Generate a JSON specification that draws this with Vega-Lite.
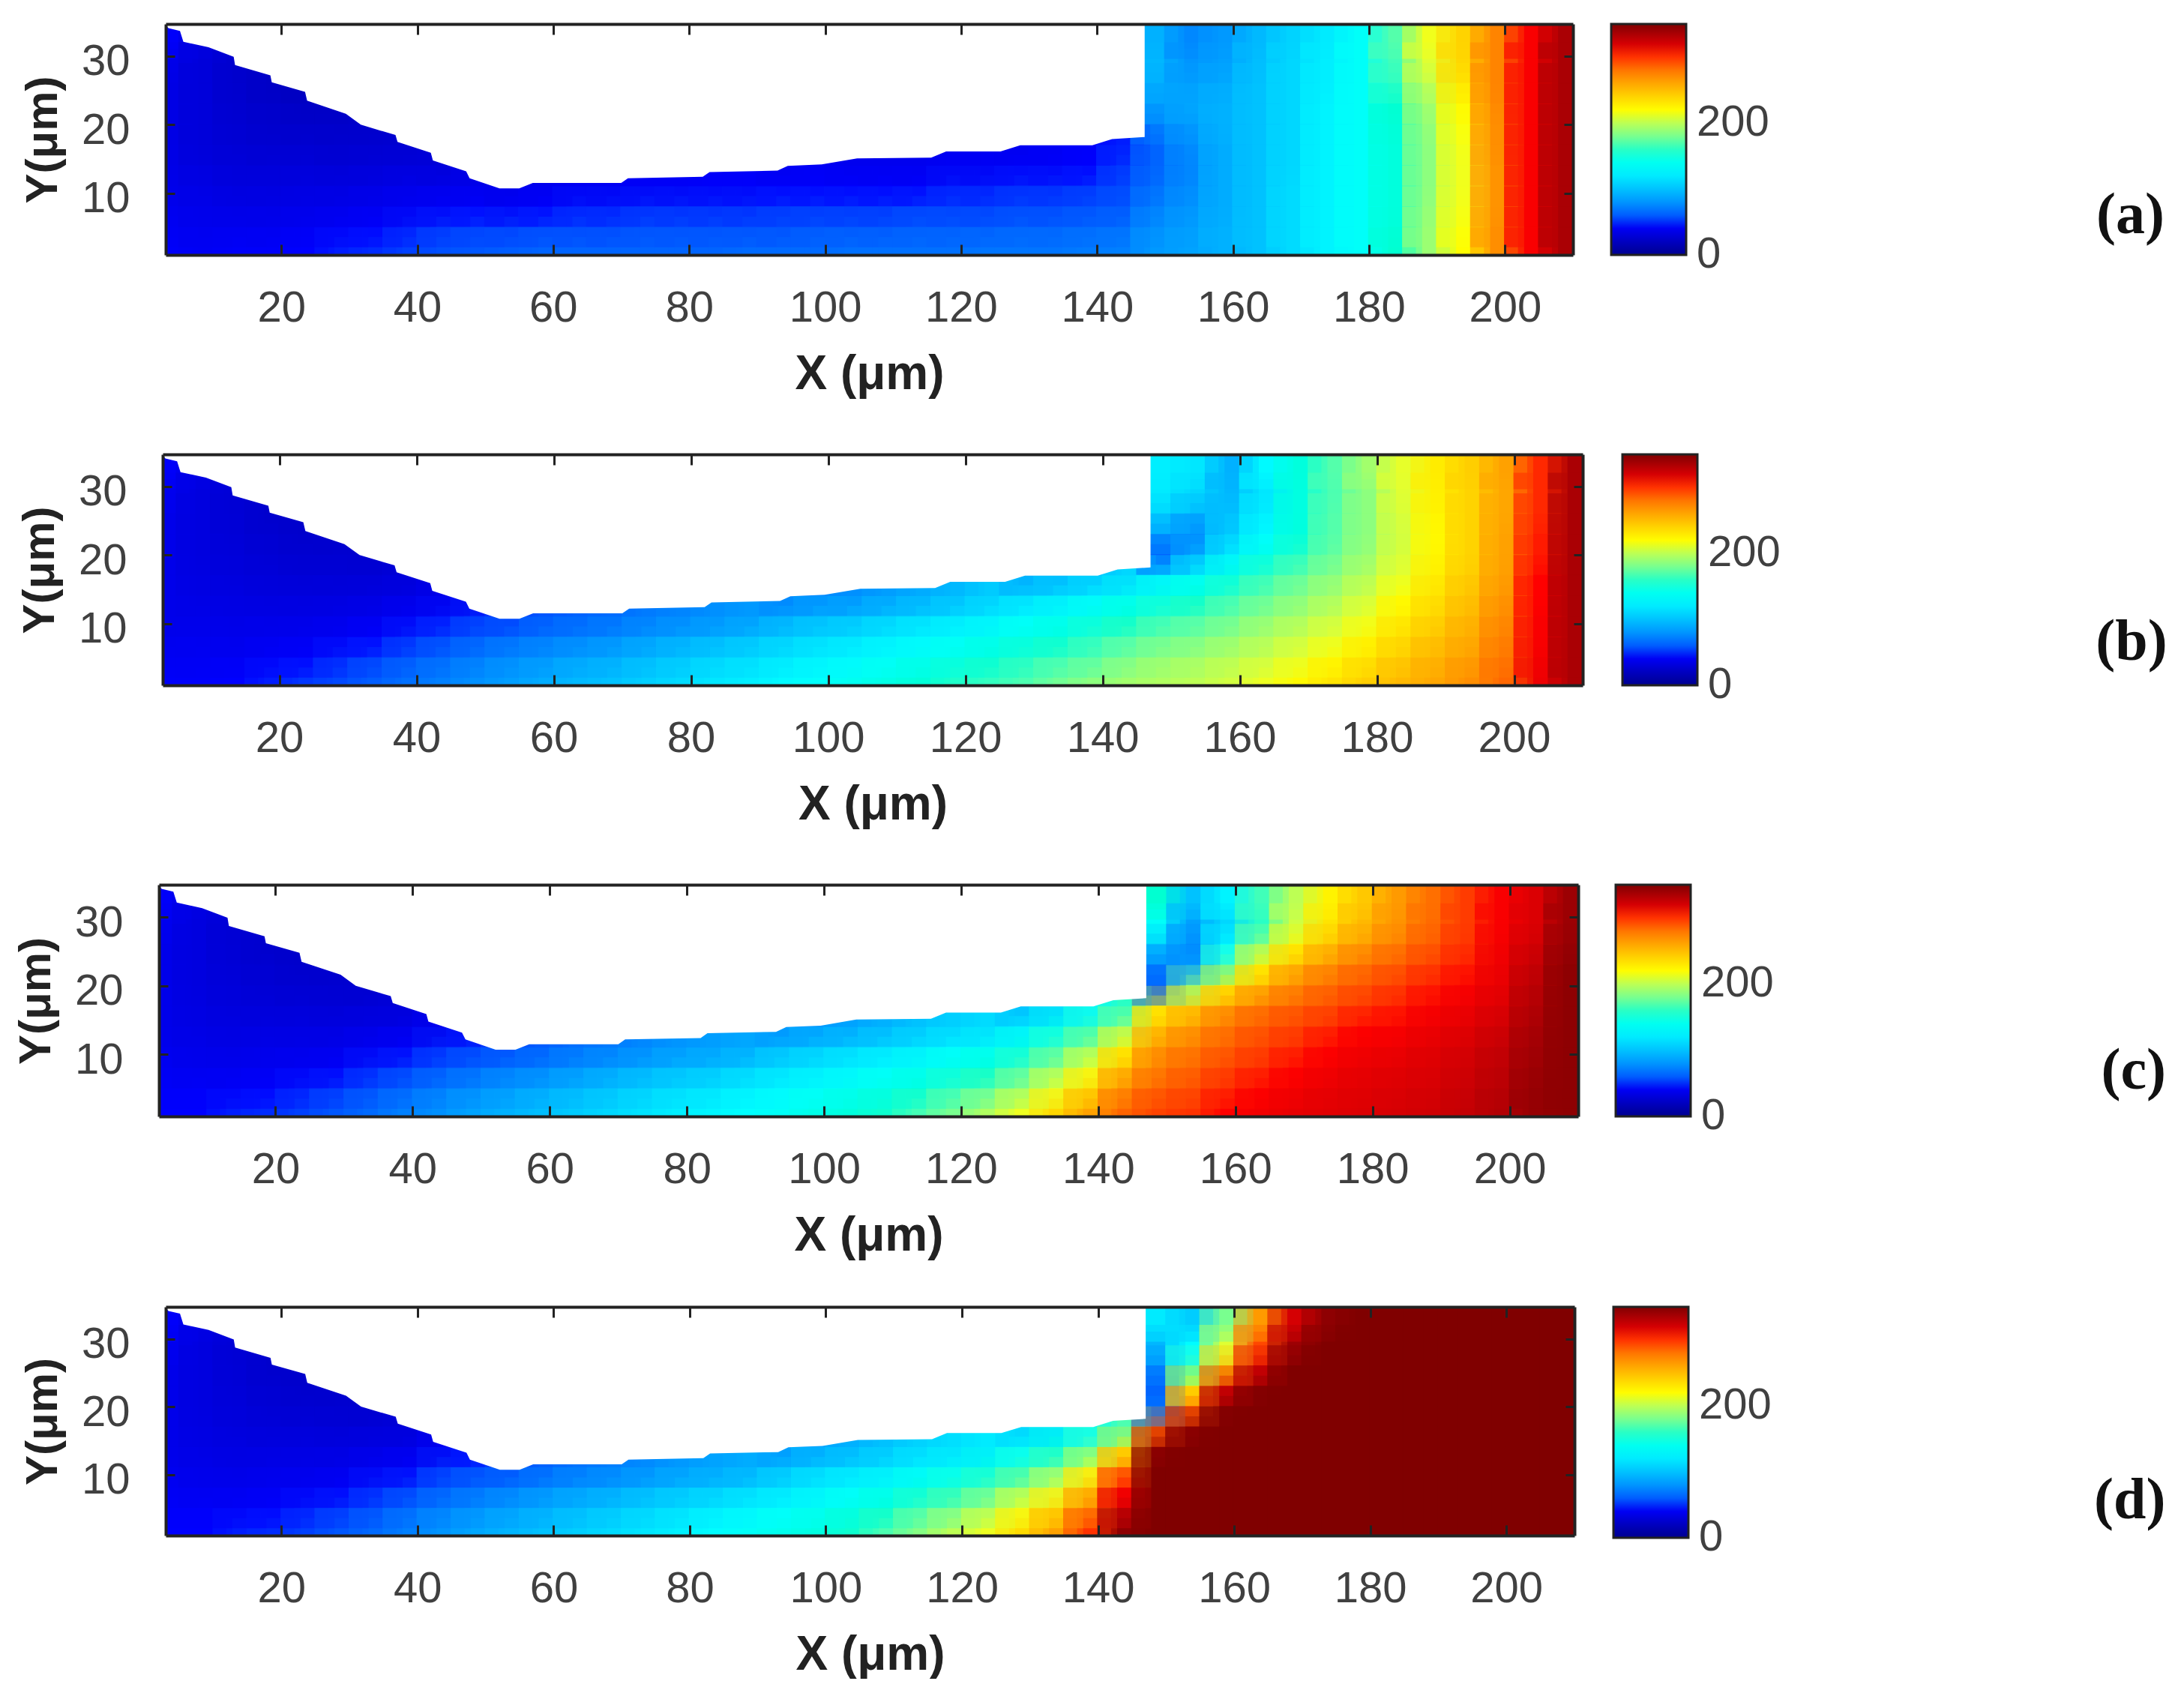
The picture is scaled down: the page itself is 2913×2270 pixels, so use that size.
{"$schema":"https://vega.github.io/schema/vega-lite/v6.json","background":"white","padding":{"left":17,"top":30,"right":0,"bottom":0},"spacing":61,"resolve":{"scale":{"color":"independent"},"legend":{"color":"independent"}},
"config":{"view":{"stroke":null},"font":"Liberation Sans","axis":{"tickWidth":3,"tickColor":"#222","domainColor":"#222","domainWidth":4,"grid":false,"labelFontSize":58,"labelColor":"#404040","labelFont":"Liberation Sans","titleFontWeight":"bold","titleColor":"#222","titleFont":"Liberation Sans"},"legend":{"labelFontSize":58,"labelColor":"#404040","labelFont":"Liberation Sans","gradientStrokeColor":"#222","gradientStrokeWidth":3,"labelOverlap":false}},
"datasets":{
"edge":[{"x":3,"y":34.6},{"x":3.4,"y":34.1},{"x":5.1,"y":33.7},{"x":5.6,"y":32.1},{"x":9.3,"y":31.3},{"x":13,"y":29.9},{"x":13.2,"y":28.7},{"x":18.4,"y":27.2},{"x":18.6,"y":26.2},{"x":23.5,"y":24.8},{"x":23.8,"y":23.5},{"x":29.5,"y":21.6},{"x":31.7,"y":20},{"x":36.8,"y":18.5},{"x":37.1,"y":17.5},{"x":42,"y":15.9},{"x":42.3,"y":14.8},{"x":47.2,"y":13.2},{"x":47.7,"y":12.2},{"x":52.1,"y":10.7},{"x":55,"y":10.7},{"x":57,"y":11.5},{"x":70,"y":11.5},{"x":71,"y":12.2},{"x":82,"y":12.4},{"x":83,"y":13.1},{"x":93,"y":13.3},{"x":94.5,"y":14},{"x":99.5,"y":14.2},{"x":104.7,"y":15.1},{"x":115.6,"y":15.2},{"x":117.8,"y":16.1},{"x":125.8,"y":16.1},{"x":128.7,"y":17},{"x":139.3,"y":17},{"x":142.2,"y":17.9},{"x":147,"y":18.2}],
"a":[
{"x":4.5,"y":2.5,"v":42},{"x":4.5,"y":5.5,"v":40},{"x":4.5,"y":8.5,"v":38},{"x":4.5,"y":11.5,"v":36},{"x":4.5,"y":14.5,"v":35},{"x":4.5,"y":17.5,"v":34},{"x":4.5,"y":20.5,"v":34},{"x":4.5,"y":23.5,"v":34},{"x":4.5,"y":26.5,"v":34},{"x":4.5,"y":29.5,"v":36},{"x":4.5,"y":33,"v":42},
{"x":9.5,"y":2.5,"v":40},{"x":9.5,"y":5.5,"v":38},{"x":9.5,"y":8.5,"v":36},{"x":9.5,"y":11.5,"v":34},{"x":9.5,"y":14.5,"v":32},{"x":9.5,"y":17.5,"v":30},{"x":9.5,"y":20.5,"v":30},{"x":9.5,"y":23.5,"v":30},{"x":9.5,"y":26.5,"v":30},{"x":9.5,"y":29.5,"v":30},{"x":9.5,"y":33,"v":32},
{"x":14.5,"y":2.5,"v":42},{"x":14.5,"y":5.5,"v":38},{"x":14.5,"y":8.5,"v":35},{"x":14.5,"y":11.5,"v":32},{"x":14.5,"y":14.5,"v":30},{"x":14.5,"y":17.5,"v":28},{"x":14.5,"y":20.5,"v":27},{"x":14.5,"y":23.5,"v":26},{"x":14.5,"y":26.5,"v":25},{"x":14.5,"y":29.5,"v":25},
{"x":19.5,"y":2.5,"v":42},{"x":19.5,"y":5.5,"v":38},{"x":19.5,"y":8.5,"v":35},{"x":19.5,"y":11.5,"v":32},{"x":19.5,"y":14.5,"v":30},{"x":19.5,"y":17.5,"v":27},{"x":19.5,"y":20.5,"v":25},{"x":19.5,"y":23.5,"v":24},{"x":19.5,"y":26.5,"v":22},
{"x":24.5,"y":2.5,"v":44},{"x":24.5,"y":5.5,"v":40},{"x":24.5,"y":8.5,"v":36},{"x":24.5,"y":11.5,"v":33},{"x":24.5,"y":14.5,"v":30},{"x":24.5,"y":17.5,"v":27},{"x":24.5,"y":20.5,"v":24},{"x":24.5,"y":23.5,"v":22},{"x":24.5,"y":26.5,"v":20},
{"x":29.5,"y":2.5,"v":46},{"x":29.5,"y":5.5,"v":42},{"x":29.5,"y":8.5,"v":37},{"x":29.5,"y":11.5,"v":33},{"x":29.5,"y":14.5,"v":29},{"x":29.5,"y":17.5,"v":26},{"x":29.5,"y":20.5,"v":24},{"x":29.5,"y":23.5,"v":22},
{"x":34.5,"y":2.5,"v":48},{"x":34.5,"y":5.5,"v":44},{"x":34.5,"y":8.5,"v":38},{"x":34.5,"y":11.5,"v":34},{"x":34.5,"y":14.5,"v":30},{"x":34.5,"y":17.5,"v":27},{"x":34.5,"y":20.5,"v":24},
{"x":39.5,"y":2.5,"v":52},{"x":39.5,"y":5.5,"v":46},{"x":39.5,"y":8.5,"v":40},{"x":39.5,"y":11.5,"v":36},{"x":39.5,"y":14.5,"v":31},{"x":39.5,"y":17.5,"v":27},
{"x":44.5,"y":2.5,"v":56},{"x":44.5,"y":5.5,"v":50},{"x":44.5,"y":8.5,"v":42},{"x":44.5,"y":11.5,"v":37},{"x":44.5,"y":14.5,"v":30},
{"x":49.5,"y":2.5,"v":58},{"x":49.5,"y":5.5,"v":52},{"x":49.5,"y":8.5,"v":44},{"x":49.5,"y":11.5,"v":37},{"x":49.5,"y":14.5,"v":34},
{"x":54.5,"y":2.5,"v":60},{"x":54.5,"y":5.5,"v":52},{"x":54.5,"y":8.5,"v":42},{"x":54.5,"y":11.5,"v":36},
{"x":59.5,"y":2.5,"v":62},{"x":59.5,"y":5.5,"v":54},{"x":59.5,"y":8.5,"v":44},{"x":59.5,"y":11.5,"v":38},
{"x":64.5,"y":2.5,"v":62},{"x":64.5,"y":5.5,"v":54},{"x":64.5,"y":8.5,"v":46},{"x":64.5,"y":11.5,"v":40},
{"x":69.5,"y":2.5,"v":62},{"x":69.5,"y":5.5,"v":54},{"x":69.5,"y":8.5,"v":46},{"x":69.5,"y":11.5,"v":40},
{"x":74.5,"y":2.5,"v":62},{"x":74.5,"y":5.5,"v":56},{"x":74.5,"y":8.5,"v":48},{"x":74.5,"y":11.5,"v":41},
{"x":79.5,"y":2.5,"v":62},{"x":79.5,"y":5.5,"v":56},{"x":79.5,"y":8.5,"v":48},{"x":79.5,"y":11.5,"v":41},
{"x":84.5,"y":2.5,"v":62},{"x":84.5,"y":5.5,"v":56},{"x":84.5,"y":8.5,"v":48},{"x":84.5,"y":11.5,"v":42},
{"x":89.5,"y":2.5,"v":64},{"x":89.5,"y":5.5,"v":56},{"x":89.5,"y":8.5,"v":48},{"x":89.5,"y":11.5,"v":42},
{"x":94.5,"y":2.5,"v":64},{"x":94.5,"y":5.5,"v":56},{"x":94.5,"y":8.5,"v":50},{"x":94.5,"y":11.5,"v":44},{"x":94.5,"y":14.5,"v":38},
{"x":99.5,"y":2.5,"v":64},{"x":99.5,"y":5.5,"v":58},{"x":99.5,"y":8.5,"v":50},{"x":99.5,"y":11.5,"v":44},{"x":99.5,"y":14.5,"v":40},
{"x":104.5,"y":2.5,"v":66},{"x":104.5,"y":5.5,"v":58},{"x":104.5,"y":8.5,"v":50},{"x":104.5,"y":11.5,"v":44},{"x":104.5,"y":14.5,"v":38},
{"x":109.5,"y":2.5,"v":66},{"x":109.5,"y":5.5,"v":58},{"x":109.5,"y":8.5,"v":50},{"x":109.5,"y":11.5,"v":44},{"x":109.5,"y":14.5,"v":38},
{"x":114.5,"y":2.5,"v":66},{"x":114.5,"y":5.5,"v":60},{"x":114.5,"y":8.5,"v":52},{"x":114.5,"y":11.5,"v":44},{"x":114.5,"y":14.5,"v":38},
{"x":119.5,"y":2.5,"v":66},{"x":119.5,"y":5.5,"v":60},{"x":119.5,"y":8.5,"v":52},{"x":119.5,"y":11.5,"v":46},{"x":119.5,"y":14.5,"v":40},
{"x":124.5,"y":2.5,"v":68},{"x":124.5,"y":5.5,"v":60},{"x":124.5,"y":8.5,"v":52},{"x":124.5,"y":11.5,"v":46},{"x":124.5,"y":14.5,"v":40},
{"x":129.5,"y":2.5,"v":68},{"x":129.5,"y":5.5,"v":62},{"x":129.5,"y":8.5,"v":54},{"x":129.5,"y":11.5,"v":48},{"x":129.5,"y":14.5,"v":42},{"x":129.5,"y":17.5,"v":38},
{"x":134.5,"y":2.5,"v":68},{"x":134.5,"y":5.5,"v":62},{"x":134.5,"y":8.5,"v":54},{"x":134.5,"y":11.5,"v":48},{"x":134.5,"y":14.5,"v":42},{"x":134.5,"y":17.5,"v":40},
{"x":139.5,"y":2.5,"v":70},{"x":139.5,"y":5.5,"v":64},{"x":139.5,"y":8.5,"v":56},{"x":139.5,"y":11.5,"v":50},{"x":139.5,"y":14.5,"v":44},{"x":139.5,"y":17.5,"v":42},
{"x":144.5,"y":2.5,"v":72},{"x":144.5,"y":5.5,"v":66},{"x":144.5,"y":8.5,"v":58},{"x":144.5,"y":11.5,"v":54},{"x":144.5,"y":14.5,"v":50},{"x":144.5,"y":17.5,"v":46},
{"x":149.5,"y":2.5,"v":82},{"x":149.5,"y":5.5,"v":78},{"x":149.5,"y":8.5,"v":72},{"x":149.5,"y":11.5,"v":66},{"x":149.5,"y":14.5,"v":62},{"x":149.5,"y":17.5,"v":62},{"x":149.5,"y":20.5,"v":72},{"x":149.5,"y":23.5,"v":84},{"x":149.5,"y":26.5,"v":90},{"x":149.5,"y":29.5,"v":95},{"x":149.5,"y":33,"v":92},
{"x":154.5,"y":2.5,"v":86},{"x":154.5,"y":5.5,"v":84},{"x":154.5,"y":8.5,"v":80},{"x":154.5,"y":11.5,"v":76},{"x":154.5,"y":14.5,"v":74},{"x":154.5,"y":17.5,"v":76},{"x":154.5,"y":20.5,"v":82},{"x":154.5,"y":23.5,"v":88},{"x":154.5,"y":26.5,"v":85},{"x":154.5,"y":29.5,"v":80},{"x":154.5,"y":33,"v":75},
{"x":159.5,"y":2.5,"v":92},{"x":159.5,"y":5.5,"v":92},{"x":159.5,"y":8.5,"v":90},{"x":159.5,"y":11.5,"v":90},{"x":159.5,"y":14.5,"v":90},{"x":159.5,"y":17.5,"v":90},{"x":159.5,"y":20.5,"v":92},{"x":159.5,"y":23.5,"v":92},{"x":159.5,"y":26.5,"v":90},{"x":159.5,"y":29.5,"v":85},{"x":159.5,"y":33,"v":82},
{"x":164.5,"y":2.5,"v":100},{"x":164.5,"y":5.5,"v":100},{"x":164.5,"y":8.5,"v":100},{"x":164.5,"y":11.5,"v":100},{"x":164.5,"y":14.5,"v":100},{"x":164.5,"y":17.5,"v":100},{"x":164.5,"y":20.5,"v":100},{"x":164.5,"y":23.5,"v":100},{"x":164.5,"y":26.5,"v":100},{"x":164.5,"y":29.5,"v":98},{"x":164.5,"y":33,"v":96},
{"x":169.5,"y":2.5,"v":112},{"x":169.5,"y":5.5,"v":112},{"x":169.5,"y":8.5,"v":112},{"x":169.5,"y":11.5,"v":112},{"x":169.5,"y":14.5,"v":110},{"x":169.5,"y":17.5,"v":110},{"x":169.5,"y":20.5,"v":110},{"x":169.5,"y":23.5,"v":110},{"x":169.5,"y":26.5,"v":110},{"x":169.5,"y":29.5,"v":110},{"x":169.5,"y":33,"v":108},
{"x":174.5,"y":2.5,"v":125},{"x":174.5,"y":5.5,"v":125},{"x":174.5,"y":8.5,"v":125},{"x":174.5,"y":11.5,"v":125},{"x":174.5,"y":14.5,"v":125},{"x":174.5,"y":17.5,"v":125},{"x":174.5,"y":20.5,"v":125},{"x":174.5,"y":23.5,"v":125},{"x":174.5,"y":26.5,"v":122},{"x":174.5,"y":29.5,"v":122},{"x":174.5,"y":33,"v":120},
{"x":179.5,"y":2.5,"v":135},{"x":179.5,"y":5.5,"v":135},{"x":179.5,"y":8.5,"v":135},{"x":179.5,"y":11.5,"v":135},{"x":179.5,"y":14.5,"v":135},{"x":179.5,"y":17.5,"v":135},{"x":179.5,"y":20.5,"v":135},{"x":179.5,"y":23.5,"v":135},{"x":179.5,"y":26.5,"v":135},{"x":179.5,"y":29.5,"v":135},{"x":179.5,"y":33,"v":135},
{"x":184.5,"y":2.5,"v":155},{"x":184.5,"y":5.5,"v":152},{"x":184.5,"y":8.5,"v":150},{"x":184.5,"y":11.5,"v":150},{"x":184.5,"y":14.5,"v":150},{"x":184.5,"y":17.5,"v":150},{"x":184.5,"y":20.5,"v":152},{"x":184.5,"y":23.5,"v":155},{"x":184.5,"y":26.5,"v":160},{"x":184.5,"y":29.5,"v":165},{"x":184.5,"y":33,"v":170},
{"x":189.5,"y":2.5,"v":190},{"x":189.5,"y":5.5,"v":190},{"x":189.5,"y":8.5,"v":188},{"x":189.5,"y":11.5,"v":186},{"x":189.5,"y":14.5,"v":186},{"x":189.5,"y":17.5,"v":186},{"x":189.5,"y":20.5,"v":188},{"x":189.5,"y":23.5,"v":192},{"x":189.5,"y":26.5,"v":200},{"x":189.5,"y":29.5,"v":210},{"x":189.5,"y":33,"v":215},
{"x":194.5,"y":2.5,"v":220},{"x":194.5,"y":5.5,"v":218},{"x":194.5,"y":8.5,"v":216},{"x":194.5,"y":11.5,"v":215},{"x":194.5,"y":14.5,"v":215},{"x":194.5,"y":17.5,"v":216},{"x":194.5,"y":20.5,"v":218},{"x":194.5,"y":23.5,"v":222},{"x":194.5,"y":26.5,"v":230},{"x":194.5,"y":29.5,"v":238},{"x":194.5,"y":33,"v":240},
{"x":199.5,"y":2.5,"v":270},{"x":199.5,"y":5.5,"v":270},{"x":199.5,"y":8.5,"v":268},{"x":199.5,"y":11.5,"v":268},{"x":199.5,"y":14.5,"v":268},{"x":199.5,"y":17.5,"v":270},{"x":199.5,"y":20.5,"v":270},{"x":199.5,"y":23.5,"v":272},{"x":199.5,"y":26.5,"v":274},{"x":199.5,"y":29.5,"v":274},{"x":199.5,"y":33,"v":274},
{"x":204.5,"y":2.5,"v":308},{"x":204.5,"y":5.5,"v":308},{"x":204.5,"y":8.5,"v":308},{"x":204.5,"y":11.5,"v":308},{"x":204.5,"y":14.5,"v":308},{"x":204.5,"y":17.5,"v":308},{"x":204.5,"y":20.5,"v":308},{"x":204.5,"y":23.5,"v":308},{"x":204.5,"y":26.5,"v":308},{"x":204.5,"y":29.5,"v":308},{"x":204.5,"y":33,"v":308},
{"x":209.5,"y":2.5,"v":335},{"x":209.5,"y":5.5,"v":335},{"x":209.5,"y":8.5,"v":335},{"x":209.5,"y":11.5,"v":335},{"x":209.5,"y":14.5,"v":335},{"x":209.5,"y":17.5,"v":335},{"x":209.5,"y":20.5,"v":335},{"x":209.5,"y":23.5,"v":335},{"x":209.5,"y":26.5,"v":335},{"x":209.5,"y":29.5,"v":335},{"x":209.5,"y":33,"v":335}],
"b":[
{"x":4.5,"y":2.5,"v":42},{"x":4.5,"y":5.5,"v":40},{"x":4.5,"y":8.5,"v":38},{"x":4.5,"y":11.5,"v":36},{"x":4.5,"y":14.5,"v":36},{"x":4.5,"y":17.5,"v":36},{"x":4.5,"y":20.5,"v":36},{"x":4.5,"y":23.5,"v":36},{"x":4.5,"y":26.5,"v":36},{"x":4.5,"y":29.5,"v":38},{"x":4.5,"y":33,"v":42},
{"x":9.5,"y":2.5,"v":42},{"x":9.5,"y":5.5,"v":40},{"x":9.5,"y":8.5,"v":38},{"x":9.5,"y":11.5,"v":36},{"x":9.5,"y":14.5,"v":34},{"x":9.5,"y":17.5,"v":33},{"x":9.5,"y":20.5,"v":32},{"x":9.5,"y":23.5,"v":32},{"x":9.5,"y":26.5,"v":32},{"x":9.5,"y":29.5,"v":32},{"x":9.5,"y":33,"v":34},
{"x":14.5,"y":2.5,"v":44},{"x":14.5,"y":5.5,"v":40},{"x":14.5,"y":8.5,"v":37},{"x":14.5,"y":11.5,"v":35},{"x":14.5,"y":14.5,"v":33},{"x":14.5,"y":17.5,"v":31},{"x":14.5,"y":20.5,"v":30},{"x":14.5,"y":23.5,"v":29},{"x":14.5,"y":26.5,"v":28},{"x":14.5,"y":29.5,"v":28},
{"x":19.5,"y":2.5,"v":46},{"x":19.5,"y":5.5,"v":42},{"x":19.5,"y":8.5,"v":38},{"x":19.5,"y":11.5,"v":35},{"x":19.5,"y":14.5,"v":32},{"x":19.5,"y":17.5,"v":30},{"x":19.5,"y":20.5,"v":28},{"x":19.5,"y":23.5,"v":27},{"x":19.5,"y":26.5,"v":25},
{"x":24.5,"y":2.5,"v":50},{"x":24.5,"y":5.5,"v":44},{"x":24.5,"y":8.5,"v":39},{"x":24.5,"y":11.5,"v":35},{"x":24.5,"y":14.5,"v":32},{"x":24.5,"y":17.5,"v":29},{"x":24.5,"y":20.5,"v":27},{"x":24.5,"y":23.5,"v":25},{"x":24.5,"y":26.5,"v":24},
{"x":29.5,"y":2.5,"v":54},{"x":29.5,"y":5.5,"v":47},{"x":29.5,"y":8.5,"v":41},{"x":29.5,"y":11.5,"v":36},{"x":29.5,"y":14.5,"v":32},{"x":29.5,"y":17.5,"v":29},{"x":29.5,"y":20.5,"v":27},{"x":29.5,"y":23.5,"v":25},
{"x":34.5,"y":2.5,"v":60},{"x":34.5,"y":5.5,"v":52},{"x":34.5,"y":8.5,"v":44},{"x":34.5,"y":11.5,"v":38},{"x":34.5,"y":14.5,"v":33},{"x":34.5,"y":17.5,"v":29},{"x":34.5,"y":20.5,"v":26},
{"x":39.5,"y":2.5,"v":66},{"x":39.5,"y":5.5,"v":58},{"x":39.5,"y":8.5,"v":48},{"x":39.5,"y":11.5,"v":41},{"x":39.5,"y":14.5,"v":35},{"x":39.5,"y":17.5,"v":30},
{"x":44.5,"y":2.5,"v":72},{"x":44.5,"y":5.5,"v":64},{"x":44.5,"y":8.5,"v":54},{"x":44.5,"y":11.5,"v":45},{"x":44.5,"y":14.5,"v":37},
{"x":49.5,"y":2.5,"v":78},{"x":49.5,"y":5.5,"v":70},{"x":49.5,"y":8.5,"v":60},{"x":49.5,"y":11.5,"v":50},{"x":49.5,"y":14.5,"v":40},
{"x":54.5,"y":2.5,"v":84},{"x":54.5,"y":5.5,"v":76},{"x":54.5,"y":8.5,"v":65},{"x":54.5,"y":11.5,"v":52},
{"x":59.5,"y":2.5,"v":90},{"x":59.5,"y":5.5,"v":80},{"x":59.5,"y":8.5,"v":70},{"x":59.5,"y":11.5,"v":58},
{"x":64.5,"y":2.5,"v":96},{"x":64.5,"y":5.5,"v":86},{"x":64.5,"y":8.5,"v":74},{"x":64.5,"y":11.5,"v":62},
{"x":69.5,"y":2.5,"v":100},{"x":69.5,"y":5.5,"v":90},{"x":69.5,"y":8.5,"v":78},{"x":69.5,"y":11.5,"v":65},
{"x":74.5,"y":2.5,"v":106},{"x":74.5,"y":5.5,"v":96},{"x":74.5,"y":8.5,"v":84},{"x":74.5,"y":11.5,"v":70},
{"x":79.5,"y":2.5,"v":112},{"x":79.5,"y":5.5,"v":102},{"x":79.5,"y":8.5,"v":90},{"x":79.5,"y":11.5,"v":74},
{"x":84.5,"y":2.5,"v":118},{"x":84.5,"y":5.5,"v":108},{"x":84.5,"y":8.5,"v":94},{"x":84.5,"y":11.5,"v":78},
{"x":89.5,"y":2.5,"v":122},{"x":89.5,"y":5.5,"v":112},{"x":89.5,"y":8.5,"v":100},{"x":89.5,"y":11.5,"v":82},
{"x":94.5,"y":2.5,"v":128},{"x":94.5,"y":5.5,"v":118},{"x":94.5,"y":8.5,"v":106},{"x":94.5,"y":11.5,"v":90},{"x":94.5,"y":14.5,"v":72},
{"x":99.5,"y":2.5,"v":134},{"x":99.5,"y":5.5,"v":124},{"x":99.5,"y":8.5,"v":112},{"x":99.5,"y":11.5,"v":96},{"x":99.5,"y":14.5,"v":76},
{"x":104.5,"y":2.5,"v":140},{"x":104.5,"y":5.5,"v":128},{"x":104.5,"y":8.5,"v":116},{"x":104.5,"y":11.5,"v":100},{"x":104.5,"y":14.5,"v":78},
{"x":109.5,"y":2.5,"v":146},{"x":109.5,"y":5.5,"v":134},{"x":109.5,"y":8.5,"v":122},{"x":109.5,"y":11.5,"v":106},{"x":109.5,"y":14.5,"v":84},
{"x":114.5,"y":2.5,"v":152},{"x":114.5,"y":5.5,"v":140},{"x":114.5,"y":8.5,"v":128},{"x":114.5,"y":11.5,"v":112},{"x":114.5,"y":14.5,"v":90},
{"x":119.5,"y":2.5,"v":158},{"x":119.5,"y":5.5,"v":146},{"x":119.5,"y":8.5,"v":134},{"x":119.5,"y":11.5,"v":118},{"x":119.5,"y":14.5,"v":96},
{"x":124.5,"y":2.5,"v":162},{"x":124.5,"y":5.5,"v":152},{"x":124.5,"y":8.5,"v":140},{"x":124.5,"y":11.5,"v":124},{"x":124.5,"y":14.5,"v":104},
{"x":129.5,"y":2.5,"v":168},{"x":129.5,"y":5.5,"v":158},{"x":129.5,"y":8.5,"v":146},{"x":129.5,"y":11.5,"v":132},{"x":129.5,"y":14.5,"v":112},{"x":129.5,"y":17.5,"v":88},
{"x":134.5,"y":2.5,"v":178},{"x":134.5,"y":5.5,"v":164},{"x":134.5,"y":8.5,"v":152},{"x":134.5,"y":11.5,"v":138},{"x":134.5,"y":14.5,"v":120},{"x":134.5,"y":17.5,"v":92},
{"x":139.5,"y":2.5,"v":186},{"x":139.5,"y":5.5,"v":170},{"x":139.5,"y":8.5,"v":160},{"x":139.5,"y":11.5,"v":146},{"x":139.5,"y":14.5,"v":128},{"x":139.5,"y":17.5,"v":100},
{"x":144.5,"y":2.5,"v":192},{"x":144.5,"y":5.5,"v":180},{"x":144.5,"y":8.5,"v":168},{"x":144.5,"y":11.5,"v":154},{"x":144.5,"y":14.5,"v":138},{"x":144.5,"y":17.5,"v":110},
{"x":149.5,"y":2.5,"v":196},{"x":149.5,"y":5.5,"v":188},{"x":149.5,"y":8.5,"v":176},{"x":149.5,"y":11.5,"v":162},{"x":149.5,"y":14.5,"v":146},{"x":149.5,"y":17.5,"v":125},{"x":149.5,"y":20.5,"v":60},{"x":149.5,"y":23.5,"v":80},{"x":149.5,"y":26.5,"v":105},{"x":149.5,"y":29.5,"v":120},{"x":149.5,"y":33,"v":122},
{"x":154.5,"y":2.5,"v":200},{"x":154.5,"y":5.5,"v":192},{"x":154.5,"y":8.5,"v":180},{"x":154.5,"y":11.5,"v":168},{"x":154.5,"y":14.5,"v":154},{"x":154.5,"y":17.5,"v":135},{"x":154.5,"y":20.5,"v":95},{"x":154.5,"y":23.5,"v":75},{"x":154.5,"y":26.5,"v":90},{"x":154.5,"y":29.5,"v":110},{"x":154.5,"y":33,"v":118},
{"x":159.5,"y":2.5,"v":206},{"x":159.5,"y":5.5,"v":198},{"x":159.5,"y":8.5,"v":188},{"x":159.5,"y":11.5,"v":176},{"x":159.5,"y":14.5,"v":164},{"x":159.5,"y":17.5,"v":148},{"x":159.5,"y":20.5,"v":125},{"x":159.5,"y":23.5,"v":105},{"x":159.5,"y":26.5,"v":100},{"x":159.5,"y":29.5,"v":95},{"x":159.5,"y":33,"v":92},
{"x":164.5,"y":2.5,"v":214},{"x":164.5,"y":5.5,"v":204},{"x":164.5,"y":8.5,"v":196},{"x":164.5,"y":11.5,"v":186},{"x":164.5,"y":14.5,"v":174},{"x":164.5,"y":17.5,"v":162},{"x":164.5,"y":20.5,"v":146},{"x":164.5,"y":23.5,"v":130},{"x":164.5,"y":26.5,"v":122},{"x":164.5,"y":29.5,"v":118},{"x":164.5,"y":33,"v":128},
{"x":169.5,"y":2.5,"v":222},{"x":169.5,"y":5.5,"v":212},{"x":169.5,"y":8.5,"v":204},{"x":169.5,"y":11.5,"v":194},{"x":169.5,"y":14.5,"v":184},{"x":169.5,"y":17.5,"v":174},{"x":169.5,"y":20.5,"v":160},{"x":169.5,"y":23.5,"v":150},{"x":169.5,"y":26.5,"v":148},{"x":169.5,"y":29.5,"v":148},{"x":169.5,"y":33,"v":150},
{"x":174.5,"y":2.5,"v":232},{"x":174.5,"y":5.5,"v":222},{"x":174.5,"y":8.5,"v":212},{"x":174.5,"y":11.5,"v":204},{"x":174.5,"y":14.5,"v":194},{"x":174.5,"y":17.5,"v":186},{"x":174.5,"y":20.5,"v":176},{"x":174.5,"y":23.5,"v":170},{"x":174.5,"y":26.5,"v":170},{"x":174.5,"y":29.5,"v":168},{"x":174.5,"y":33,"v":170},
{"x":179.5,"y":2.5,"v":242},{"x":179.5,"y":5.5,"v":232},{"x":179.5,"y":8.5,"v":224},{"x":179.5,"y":11.5,"v":214},{"x":179.5,"y":14.5,"v":206},{"x":179.5,"y":17.5,"v":198},{"x":179.5,"y":20.5,"v":190},{"x":179.5,"y":23.5,"v":186},{"x":179.5,"y":26.5,"v":186},{"x":179.5,"y":29.5,"v":186},{"x":179.5,"y":33,"v":192},
{"x":184.5,"y":2.5,"v":252},{"x":184.5,"y":5.5,"v":244},{"x":184.5,"y":8.5,"v":236},{"x":184.5,"y":11.5,"v":228},{"x":184.5,"y":14.5,"v":220},{"x":184.5,"y":17.5,"v":212},{"x":184.5,"y":20.5,"v":208},{"x":184.5,"y":23.5,"v":206},{"x":184.5,"y":26.5,"v":208},{"x":184.5,"y":29.5,"v":210},{"x":184.5,"y":33,"v":212},
{"x":189.5,"y":2.5,"v":260},{"x":189.5,"y":5.5,"v":254},{"x":189.5,"y":8.5,"v":248},{"x":189.5,"y":11.5,"v":240},{"x":189.5,"y":14.5,"v":234},{"x":189.5,"y":17.5,"v":228},{"x":189.5,"y":20.5,"v":224},{"x":189.5,"y":23.5,"v":222},{"x":189.5,"y":26.5,"v":224},{"x":189.5,"y":29.5,"v":226},{"x":189.5,"y":33,"v":228},
{"x":194.5,"y":2.5,"v":270},{"x":194.5,"y":5.5,"v":264},{"x":194.5,"y":8.5,"v":258},{"x":194.5,"y":11.5,"v":254},{"x":194.5,"y":14.5,"v":248},{"x":194.5,"y":17.5,"v":244},{"x":194.5,"y":20.5,"v":240},{"x":194.5,"y":23.5,"v":240},{"x":194.5,"y":26.5,"v":240},{"x":194.5,"y":29.5,"v":240},{"x":194.5,"y":33,"v":242},
{"x":199.5,"y":2.5,"v":285},{"x":199.5,"y":5.5,"v":280},{"x":199.5,"y":8.5,"v":276},{"x":199.5,"y":11.5,"v":272},{"x":199.5,"y":14.5,"v":268},{"x":199.5,"y":17.5,"v":264},{"x":199.5,"y":20.5,"v":262},{"x":199.5,"y":23.5,"v":262},{"x":199.5,"y":26.5,"v":260},{"x":199.5,"y":29.5,"v":260},{"x":199.5,"y":33,"v":262},
{"x":204.5,"y":2.5,"v":312},{"x":204.5,"y":5.5,"v":310},{"x":204.5,"y":8.5,"v":308},{"x":204.5,"y":11.5,"v":308},{"x":204.5,"y":14.5,"v":306},{"x":204.5,"y":17.5,"v":306},{"x":204.5,"y":20.5,"v":304},{"x":204.5,"y":23.5,"v":304},{"x":204.5,"y":26.5,"v":302},{"x":204.5,"y":29.5,"v":302},{"x":204.5,"y":33,"v":302},
{"x":209.5,"y":2.5,"v":335},{"x":209.5,"y":5.5,"v":335},{"x":209.5,"y":8.5,"v":335},{"x":209.5,"y":11.5,"v":335},{"x":209.5,"y":14.5,"v":335},{"x":209.5,"y":17.5,"v":335},{"x":209.5,"y":20.5,"v":335},{"x":209.5,"y":23.5,"v":335},{"x":209.5,"y":26.5,"v":335},{"x":209.5,"y":29.5,"v":335},{"x":209.5,"y":33,"v":335}],
"c":[
{"x":4.5,"y":2.5,"v":44},{"x":4.5,"y":5.5,"v":42},{"x":4.5,"y":8.5,"v":40},{"x":4.5,"y":11.5,"v":38},{"x":4.5,"y":14.5,"v":36},{"x":4.5,"y":17.5,"v":36},{"x":4.5,"y":20.5,"v":36},{"x":4.5,"y":23.5,"v":36},{"x":4.5,"y":26.5,"v":36},{"x":4.5,"y":29.5,"v":38},{"x":4.5,"y":33,"v":42},
{"x":9.5,"y":2.5,"v":44},{"x":9.5,"y":5.5,"v":42},{"x":9.5,"y":8.5,"v":38},{"x":9.5,"y":11.5,"v":36},{"x":9.5,"y":14.5,"v":34},{"x":9.5,"y":17.5,"v":33},{"x":9.5,"y":20.5,"v":32},{"x":9.5,"y":23.5,"v":32},{"x":9.5,"y":26.5,"v":32},{"x":9.5,"y":29.5,"v":32},{"x":9.5,"y":33,"v":34},
{"x":14.5,"y":2.5,"v":46},{"x":14.5,"y":5.5,"v":42},{"x":14.5,"y":8.5,"v":38},{"x":14.5,"y":11.5,"v":35},{"x":14.5,"y":14.5,"v":33},{"x":14.5,"y":17.5,"v":31},{"x":14.5,"y":20.5,"v":30},{"x":14.5,"y":23.5,"v":29},{"x":14.5,"y":26.5,"v":28},{"x":14.5,"y":29.5,"v":28},
{"x":19.5,"y":2.5,"v":48},{"x":19.5,"y":5.5,"v":44},{"x":19.5,"y":8.5,"v":39},{"x":19.5,"y":11.5,"v":36},{"x":19.5,"y":14.5,"v":33},{"x":19.5,"y":17.5,"v":30},{"x":19.5,"y":20.5,"v":28},{"x":19.5,"y":23.5,"v":27},{"x":19.5,"y":26.5,"v":25},
{"x":24.5,"y":2.5,"v":52},{"x":24.5,"y":5.5,"v":46},{"x":24.5,"y":8.5,"v":41},{"x":24.5,"y":11.5,"v":36},{"x":24.5,"y":14.5,"v":33},{"x":24.5,"y":17.5,"v":30},{"x":24.5,"y":20.5,"v":27},{"x":24.5,"y":23.5,"v":25},{"x":24.5,"y":26.5,"v":24},
{"x":29.5,"y":2.5,"v":58},{"x":29.5,"y":5.5,"v":50},{"x":29.5,"y":8.5,"v":43},{"x":29.5,"y":11.5,"v":37},{"x":29.5,"y":14.5,"v":33},{"x":29.5,"y":17.5,"v":29},{"x":29.5,"y":20.5,"v":27},{"x":29.5,"y":23.5,"v":25},
{"x":34.5,"y":2.5,"v":64},{"x":34.5,"y":5.5,"v":56},{"x":34.5,"y":8.5,"v":47},{"x":34.5,"y":11.5,"v":40},{"x":34.5,"y":14.5,"v":34},{"x":34.5,"y":17.5,"v":30},{"x":34.5,"y":20.5,"v":26},
{"x":39.5,"y":2.5,"v":72},{"x":39.5,"y":5.5,"v":62},{"x":39.5,"y":8.5,"v":52},{"x":39.5,"y":11.5,"v":43},{"x":39.5,"y":14.5,"v":36},{"x":39.5,"y":17.5,"v":30},
{"x":44.5,"y":2.5,"v":78},{"x":44.5,"y":5.5,"v":70},{"x":44.5,"y":8.5,"v":58},{"x":44.5,"y":11.5,"v":48},{"x":44.5,"y":14.5,"v":38},
{"x":49.5,"y":2.5,"v":86},{"x":49.5,"y":5.5,"v":76},{"x":49.5,"y":8.5,"v":64},{"x":49.5,"y":11.5,"v":52},{"x":49.5,"y":14.5,"v":42},
{"x":54.5,"y":2.5,"v":92},{"x":54.5,"y":5.5,"v":82},{"x":54.5,"y":8.5,"v":70},{"x":54.5,"y":11.5,"v":55},
{"x":59.5,"y":2.5,"v":98},{"x":59.5,"y":5.5,"v":88},{"x":59.5,"y":8.5,"v":74},{"x":59.5,"y":11.5,"v":60},
{"x":64.5,"y":2.5,"v":104},{"x":64.5,"y":5.5,"v":94},{"x":64.5,"y":8.5,"v":80},{"x":64.5,"y":11.5,"v":66},
{"x":69.5,"y":2.5,"v":110},{"x":69.5,"y":5.5,"v":100},{"x":69.5,"y":8.5,"v":86},{"x":69.5,"y":11.5,"v":70},
{"x":74.5,"y":2.5,"v":116},{"x":74.5,"y":5.5,"v":106},{"x":74.5,"y":8.5,"v":92},{"x":74.5,"y":11.5,"v":75},
{"x":79.5,"y":2.5,"v":122},{"x":79.5,"y":5.5,"v":112},{"x":79.5,"y":8.5,"v":98},{"x":79.5,"y":11.5,"v":80},
{"x":84.5,"y":2.5,"v":126},{"x":84.5,"y":5.5,"v":116},{"x":84.5,"y":8.5,"v":102},{"x":84.5,"y":11.5,"v":84},
{"x":89.5,"y":2.5,"v":132},{"x":89.5,"y":5.5,"v":122},{"x":89.5,"y":8.5,"v":108},{"x":89.5,"y":11.5,"v":88},
{"x":94.5,"y":2.5,"v":136},{"x":94.5,"y":5.5,"v":128},{"x":94.5,"y":8.5,"v":114},{"x":94.5,"y":11.5,"v":98},{"x":94.5,"y":14.5,"v":78},
{"x":99.5,"y":2.5,"v":144},{"x":99.5,"y":5.5,"v":134},{"x":99.5,"y":8.5,"v":120},{"x":99.5,"y":11.5,"v":104},{"x":99.5,"y":14.5,"v":82},
{"x":104.5,"y":2.5,"v":150},{"x":104.5,"y":5.5,"v":140},{"x":104.5,"y":8.5,"v":126},{"x":104.5,"y":11.5,"v":110},{"x":104.5,"y":14.5,"v":86},
{"x":109.5,"y":2.5,"v":156},{"x":109.5,"y":5.5,"v":146},{"x":109.5,"y":8.5,"v":132},{"x":109.5,"y":11.5,"v":116},{"x":109.5,"y":14.5,"v":92},
{"x":114.5,"y":2.5,"v":166},{"x":114.5,"y":5.5,"v":152},{"x":114.5,"y":8.5,"v":138},{"x":114.5,"y":11.5,"v":122},{"x":114.5,"y":14.5,"v":100},
{"x":119.5,"y":2.5,"v":180},{"x":119.5,"y":5.5,"v":162},{"x":119.5,"y":8.5,"v":146},{"x":119.5,"y":11.5,"v":130},{"x":119.5,"y":14.5,"v":106},
{"x":124.5,"y":2.5,"v":196},{"x":124.5,"y":5.5,"v":172},{"x":124.5,"y":8.5,"v":154},{"x":124.5,"y":11.5,"v":136},{"x":124.5,"y":14.5,"v":112},
{"x":129.5,"y":2.5,"v":214},{"x":129.5,"y":5.5,"v":190},{"x":129.5,"y":8.5,"v":168},{"x":129.5,"y":11.5,"v":146},{"x":129.5,"y":14.5,"v":124},{"x":129.5,"y":17.5,"v":95},
{"x":134.5,"y":2.5,"v":238},{"x":134.5,"y":5.5,"v":214},{"x":134.5,"y":8.5,"v":190},{"x":134.5,"y":11.5,"v":166},{"x":134.5,"y":14.5,"v":142},{"x":134.5,"y":17.5,"v":110},
{"x":139.5,"y":2.5,"v":262},{"x":139.5,"y":5.5,"v":240},{"x":139.5,"y":8.5,"v":216},{"x":139.5,"y":11.5,"v":190},{"x":139.5,"y":14.5,"v":162},{"x":139.5,"y":17.5,"v":128},
{"x":144.5,"y":2.5,"v":286},{"x":144.5,"y":5.5,"v":272},{"x":144.5,"y":8.5,"v":252},{"x":144.5,"y":11.5,"v":226},{"x":144.5,"y":14.5,"v":194},{"x":144.5,"y":17.5,"v":160},
{"x":149.5,"y":2.5,"v":296},{"x":149.5,"y":5.5,"v":288},{"x":149.5,"y":8.5,"v":276},{"x":149.5,"y":11.5,"v":268},{"x":149.5,"y":14.5,"v":248},{"x":149.5,"y":17.5,"v":228},{"x":149.5,"y":20.5,"v":60},{"x":149.5,"y":23.5,"v":70},{"x":149.5,"y":26.5,"v":100},{"x":149.5,"y":29.5,"v":135},{"x":149.5,"y":33,"v":155},
{"x":154.5,"y":2.5,"v":300},{"x":154.5,"y":5.5,"v":294},{"x":154.5,"y":8.5,"v":286},{"x":154.5,"y":11.5,"v":278},{"x":154.5,"y":14.5,"v":266},{"x":154.5,"y":17.5,"v":246},{"x":154.5,"y":20.5,"v":190},{"x":154.5,"y":23.5,"v":85},{"x":154.5,"y":26.5,"v":75},{"x":154.5,"y":29.5,"v":85},{"x":154.5,"y":33,"v":100},
{"x":159.5,"y":2.5,"v":306},{"x":159.5,"y":5.5,"v":302},{"x":159.5,"y":8.5,"v":296},{"x":159.5,"y":11.5,"v":288},{"x":159.5,"y":14.5,"v":280},{"x":159.5,"y":17.5,"v":266},{"x":159.5,"y":20.5,"v":230},{"x":159.5,"y":23.5,"v":170},{"x":159.5,"y":26.5,"v":130},{"x":159.5,"y":29.5,"v":110},{"x":159.5,"y":33,"v":125},
{"x":164.5,"y":2.5,"v":310},{"x":164.5,"y":5.5,"v":306},{"x":164.5,"y":8.5,"v":302},{"x":164.5,"y":11.5,"v":296},{"x":164.5,"y":14.5,"v":290},{"x":164.5,"y":17.5,"v":280},{"x":164.5,"y":20.5,"v":255},{"x":164.5,"y":23.5,"v":225},{"x":164.5,"y":26.5,"v":190},{"x":164.5,"y":29.5,"v":160},{"x":164.5,"y":33,"v":165},
{"x":169.5,"y":2.5,"v":314},{"x":169.5,"y":5.5,"v":310},{"x":169.5,"y":8.5,"v":306},{"x":169.5,"y":11.5,"v":302},{"x":169.5,"y":14.5,"v":296},{"x":169.5,"y":17.5,"v":288},{"x":169.5,"y":20.5,"v":272},{"x":169.5,"y":23.5,"v":254},{"x":169.5,"y":26.5,"v":225},{"x":169.5,"y":29.5,"v":205},{"x":169.5,"y":33,"v":200},
{"x":174.5,"y":2.5,"v":316},{"x":174.5,"y":5.5,"v":314},{"x":174.5,"y":8.5,"v":310},{"x":174.5,"y":11.5,"v":306},{"x":174.5,"y":14.5,"v":302},{"x":174.5,"y":17.5,"v":294},{"x":174.5,"y":20.5,"v":284},{"x":174.5,"y":23.5,"v":270},{"x":174.5,"y":26.5,"v":250},{"x":174.5,"y":29.5,"v":232},{"x":174.5,"y":33,"v":225},
{"x":179.5,"y":2.5,"v":318},{"x":179.5,"y":5.5,"v":316},{"x":179.5,"y":8.5,"v":314},{"x":179.5,"y":11.5,"v":310},{"x":179.5,"y":14.5,"v":306},{"x":179.5,"y":17.5,"v":300},{"x":179.5,"y":20.5,"v":292},{"x":179.5,"y":23.5,"v":282},{"x":179.5,"y":26.5,"v":266},{"x":179.5,"y":29.5,"v":252},{"x":179.5,"y":33,"v":245},
{"x":184.5,"y":2.5,"v":320},{"x":184.5,"y":5.5,"v":318},{"x":184.5,"y":8.5,"v":316},{"x":184.5,"y":11.5,"v":312},{"x":184.5,"y":14.5,"v":308},{"x":184.5,"y":17.5,"v":304},{"x":184.5,"y":20.5,"v":298},{"x":184.5,"y":23.5,"v":290},{"x":184.5,"y":26.5,"v":278},{"x":184.5,"y":29.5,"v":268},{"x":184.5,"y":33,"v":265},
{"x":189.5,"y":2.5,"v":322},{"x":189.5,"y":5.5,"v":320},{"x":189.5,"y":8.5,"v":318},{"x":189.5,"y":11.5,"v":316},{"x":189.5,"y":14.5,"v":312},{"x":189.5,"y":17.5,"v":308},{"x":189.5,"y":20.5,"v":304},{"x":189.5,"y":23.5,"v":298},{"x":189.5,"y":26.5,"v":290},{"x":189.5,"y":29.5,"v":284},{"x":189.5,"y":33,"v":282},
{"x":194.5,"y":2.5,"v":326},{"x":194.5,"y":5.5,"v":324},{"x":194.5,"y":8.5,"v":322},{"x":194.5,"y":11.5,"v":320},{"x":194.5,"y":14.5,"v":316},{"x":194.5,"y":17.5,"v":312},{"x":194.5,"y":20.5,"v":308},{"x":194.5,"y":23.5,"v":304},{"x":194.5,"y":26.5,"v":300},{"x":194.5,"y":29.5,"v":298},{"x":194.5,"y":33,"v":298},
{"x":199.5,"y":2.5,"v":332},{"x":199.5,"y":5.5,"v":330},{"x":199.5,"y":8.5,"v":328},{"x":199.5,"y":11.5,"v":326},{"x":199.5,"y":14.5,"v":322},{"x":199.5,"y":17.5,"v":318},{"x":199.5,"y":20.5,"v":314},{"x":199.5,"y":23.5,"v":312},{"x":199.5,"y":26.5,"v":310},{"x":199.5,"y":29.5,"v":308},{"x":199.5,"y":33,"v":308},
{"x":204.5,"y":2.5,"v":342},{"x":204.5,"y":5.5,"v":342},{"x":204.5,"y":8.5,"v":340},{"x":204.5,"y":11.5,"v":338},{"x":204.5,"y":14.5,"v":336},{"x":204.5,"y":17.5,"v":332},{"x":204.5,"y":20.5,"v":330},{"x":204.5,"y":23.5,"v":326},{"x":204.5,"y":26.5,"v":322},{"x":204.5,"y":29.5,"v":318},{"x":204.5,"y":33,"v":318},
{"x":209.5,"y":2.5,"v":345},{"x":209.5,"y":5.5,"v":345},{"x":209.5,"y":8.5,"v":345},{"x":209.5,"y":11.5,"v":345},{"x":209.5,"y":14.5,"v":345},{"x":209.5,"y":17.5,"v":345},{"x":209.5,"y":20.5,"v":345},{"x":209.5,"y":23.5,"v":345},{"x":209.5,"y":26.5,"v":342},{"x":209.5,"y":29.5,"v":340},{"x":209.5,"y":33,"v":340}],
"d":[
{"x":4.5,"y":2.5,"v":44},{"x":4.5,"y":5.5,"v":42},{"x":4.5,"y":8.5,"v":40},{"x":4.5,"y":11.5,"v":38},{"x":4.5,"y":14.5,"v":36},{"x":4.5,"y":17.5,"v":36},{"x":4.5,"y":20.5,"v":36},{"x":4.5,"y":23.5,"v":36},{"x":4.5,"y":26.5,"v":36},{"x":4.5,"y":29.5,"v":38},{"x":4.5,"y":33,"v":42},
{"x":9.5,"y":2.5,"v":44},{"x":9.5,"y":5.5,"v":42},{"x":9.5,"y":8.5,"v":38},{"x":9.5,"y":11.5,"v":36},{"x":9.5,"y":14.5,"v":34},{"x":9.5,"y":17.5,"v":33},{"x":9.5,"y":20.5,"v":32},{"x":9.5,"y":23.5,"v":32},{"x":9.5,"y":26.5,"v":32},{"x":9.5,"y":29.5,"v":32},{"x":9.5,"y":33,"v":34},
{"x":14.5,"y":2.5,"v":46},{"x":14.5,"y":5.5,"v":42},{"x":14.5,"y":8.5,"v":38},{"x":14.5,"y":11.5,"v":35},{"x":14.5,"y":14.5,"v":33},{"x":14.5,"y":17.5,"v":31},{"x":14.5,"y":20.5,"v":30},{"x":14.5,"y":23.5,"v":29},{"x":14.5,"y":26.5,"v":28},{"x":14.5,"y":29.5,"v":28},
{"x":19.5,"y":2.5,"v":48},{"x":19.5,"y":5.5,"v":44},{"x":19.5,"y":8.5,"v":39},{"x":19.5,"y":11.5,"v":36},{"x":19.5,"y":14.5,"v":33},{"x":19.5,"y":17.5,"v":30},{"x":19.5,"y":20.5,"v":28},{"x":19.5,"y":23.5,"v":27},{"x":19.5,"y":26.5,"v":25},
{"x":24.5,"y":2.5,"v":52},{"x":24.5,"y":5.5,"v":46},{"x":24.5,"y":8.5,"v":41},{"x":24.5,"y":11.5,"v":36},{"x":24.5,"y":14.5,"v":33},{"x":24.5,"y":17.5,"v":30},{"x":24.5,"y":20.5,"v":27},{"x":24.5,"y":23.5,"v":25},{"x":24.5,"y":26.5,"v":24},
{"x":29.5,"y":2.5,"v":58},{"x":29.5,"y":5.5,"v":50},{"x":29.5,"y":8.5,"v":43},{"x":29.5,"y":11.5,"v":37},{"x":29.5,"y":14.5,"v":33},{"x":29.5,"y":17.5,"v":29},{"x":29.5,"y":20.5,"v":27},{"x":29.5,"y":23.5,"v":25},
{"x":34.5,"y":2.5,"v":64},{"x":34.5,"y":5.5,"v":56},{"x":34.5,"y":8.5,"v":47},{"x":34.5,"y":11.5,"v":40},{"x":34.5,"y":14.5,"v":34},{"x":34.5,"y":17.5,"v":30},{"x":34.5,"y":20.5,"v":26},
{"x":39.5,"y":2.5,"v":72},{"x":39.5,"y":5.5,"v":64},{"x":39.5,"y":8.5,"v":52},{"x":39.5,"y":11.5,"v":43},{"x":39.5,"y":14.5,"v":36},{"x":39.5,"y":17.5,"v":30},
{"x":44.5,"y":2.5,"v":80},{"x":44.5,"y":5.5,"v":72},{"x":44.5,"y":8.5,"v":60},{"x":44.5,"y":11.5,"v":50},{"x":44.5,"y":14.5,"v":40},
{"x":49.5,"y":2.5,"v":88},{"x":49.5,"y":5.5,"v":78},{"x":49.5,"y":8.5,"v":66},{"x":49.5,"y":11.5,"v":54},{"x":49.5,"y":14.5,"v":44},
{"x":54.5,"y":2.5,"v":94},{"x":54.5,"y":5.5,"v":84},{"x":54.5,"y":8.5,"v":72},{"x":54.5,"y":11.5,"v":56},
{"x":59.5,"y":2.5,"v":100},{"x":59.5,"y":5.5,"v":90},{"x":59.5,"y":8.5,"v":78},{"x":59.5,"y":11.5,"v":62},
{"x":64.5,"y":2.5,"v":106},{"x":64.5,"y":5.5,"v":96},{"x":64.5,"y":8.5,"v":84},{"x":64.5,"y":11.5,"v":68},
{"x":69.5,"y":2.5,"v":112},{"x":69.5,"y":5.5,"v":102},{"x":69.5,"y":8.5,"v":88},{"x":69.5,"y":11.5,"v":72},
{"x":74.5,"y":2.5,"v":118},{"x":74.5,"y":5.5,"v":108},{"x":74.5,"y":8.5,"v":94},{"x":74.5,"y":11.5,"v":76},
{"x":79.5,"y":2.5,"v":124},{"x":79.5,"y":5.5,"v":114},{"x":79.5,"y":8.5,"v":100},{"x":79.5,"y":11.5,"v":82},
{"x":84.5,"y":2.5,"v":130},{"x":84.5,"y":5.5,"v":120},{"x":84.5,"y":8.5,"v":104},{"x":84.5,"y":11.5,"v":86},
{"x":89.5,"y":2.5,"v":136},{"x":89.5,"y":5.5,"v":126},{"x":89.5,"y":8.5,"v":110},{"x":89.5,"y":11.5,"v":90},
{"x":94.5,"y":2.5,"v":142},{"x":94.5,"y":5.5,"v":132},{"x":94.5,"y":8.5,"v":116},{"x":94.5,"y":11.5,"v":100},{"x":94.5,"y":14.5,"v":80},
{"x":99.5,"y":2.5,"v":148},{"x":99.5,"y":5.5,"v":138},{"x":99.5,"y":8.5,"v":124},{"x":99.5,"y":11.5,"v":108},{"x":99.5,"y":14.5,"v":86},
{"x":104.5,"y":2.5,"v":156},{"x":104.5,"y":5.5,"v":146},{"x":104.5,"y":8.5,"v":130},{"x":104.5,"y":11.5,"v":114},{"x":104.5,"y":14.5,"v":92},
{"x":109.5,"y":2.5,"v":168},{"x":109.5,"y":5.5,"v":154},{"x":109.5,"y":8.5,"v":138},{"x":109.5,"y":11.5,"v":120},{"x":109.5,"y":14.5,"v":100},
{"x":114.5,"y":2.5,"v":184},{"x":114.5,"y":5.5,"v":166},{"x":114.5,"y":8.5,"v":148},{"x":114.5,"y":11.5,"v":128},{"x":114.5,"y":14.5,"v":108},
{"x":119.5,"y":2.5,"v":200},{"x":119.5,"y":5.5,"v":178},{"x":119.5,"y":8.5,"v":158},{"x":119.5,"y":11.5,"v":136},{"x":119.5,"y":14.5,"v":114},
{"x":124.5,"y":2.5,"v":214},{"x":124.5,"y":5.5,"v":194},{"x":124.5,"y":8.5,"v":170},{"x":124.5,"y":11.5,"v":146},{"x":124.5,"y":14.5,"v":120},
{"x":129.5,"y":2.5,"v":236},{"x":129.5,"y":5.5,"v":216},{"x":129.5,"y":8.5,"v":190},{"x":129.5,"y":11.5,"v":160},{"x":129.5,"y":14.5,"v":134},{"x":129.5,"y":17.5,"v":105},
{"x":134.5,"y":2.5,"v":262},{"x":134.5,"y":5.5,"v":240},{"x":134.5,"y":8.5,"v":212},{"x":134.5,"y":11.5,"v":180},{"x":134.5,"y":14.5,"v":150},{"x":134.5,"y":17.5,"v":118},
{"x":139.5,"y":2.5,"v":300},{"x":139.5,"y":5.5,"v":276},{"x":139.5,"y":8.5,"v":250},{"x":139.5,"y":11.5,"v":216},{"x":139.5,"y":14.5,"v":172},{"x":139.5,"y":17.5,"v":135},
{"x":144.5,"y":2.5,"v":345},{"x":144.5,"y":5.5,"v":325},{"x":144.5,"y":8.5,"v":306},{"x":144.5,"y":11.5,"v":280},{"x":144.5,"y":14.5,"v":230},{"x":144.5,"y":17.5,"v":168},
{"x":149.5,"y":2.5,"v":350},{"x":149.5,"y":5.5,"v":350},{"x":149.5,"y":8.5,"v":350},{"x":149.5,"y":11.5,"v":350},{"x":149.5,"y":14.5,"v":345},{"x":149.5,"y":17.5,"v":290},{"x":149.5,"y":20.5,"v":70},{"x":149.5,"y":23.5,"v":60},{"x":149.5,"y":26.5,"v":75},{"x":149.5,"y":29.5,"v":95},{"x":149.5,"y":33,"v":120},
{"x":154.5,"y":2.5,"v":350},{"x":154.5,"y":5.5,"v":350},{"x":154.5,"y":8.5,"v":350},{"x":154.5,"y":11.5,"v":350},{"x":154.5,"y":14.5,"v":350},{"x":154.5,"y":17.5,"v":345},{"x":154.5,"y":20.5,"v":290},{"x":154.5,"y":23.5,"v":225},{"x":154.5,"y":26.5,"v":165},{"x":154.5,"y":29.5,"v":130},{"x":154.5,"y":33,"v":105},
{"x":159.5,"y":2.5,"v":350},{"x":159.5,"y":5.5,"v":350},{"x":159.5,"y":8.5,"v":350},{"x":159.5,"y":11.5,"v":350},{"x":159.5,"y":14.5,"v":350},{"x":159.5,"y":17.5,"v":350},{"x":159.5,"y":20.5,"v":348},{"x":159.5,"y":23.5,"v":320},{"x":159.5,"y":26.5,"v":255},{"x":159.5,"y":29.5,"v":210},{"x":159.5,"y":33,"v":180},
{"x":164.5,"y":2.5,"v":350},{"x":164.5,"y":5.5,"v":350},{"x":164.5,"y":8.5,"v":350},{"x":164.5,"y":11.5,"v":350},{"x":164.5,"y":14.5,"v":350},{"x":164.5,"y":17.5,"v":350},{"x":164.5,"y":20.5,"v":350},{"x":164.5,"y":23.5,"v":348},{"x":164.5,"y":26.5,"v":320},{"x":164.5,"y":29.5,"v":295},{"x":164.5,"y":33,"v":265},
{"x":169.5,"y":2.5,"v":350},{"x":169.5,"y":5.5,"v":350},{"x":169.5,"y":8.5,"v":350},{"x":169.5,"y":11.5,"v":350},{"x":169.5,"y":14.5,"v":350},{"x":169.5,"y":17.5,"v":350},{"x":169.5,"y":20.5,"v":350},{"x":169.5,"y":23.5,"v":350},{"x":169.5,"y":26.5,"v":350},{"x":169.5,"y":29.5,"v":340},{"x":169.5,"y":33,"v":320},
{"x":174.5,"y":2.5,"v":350},{"x":174.5,"y":5.5,"v":350},{"x":174.5,"y":8.5,"v":350},{"x":174.5,"y":11.5,"v":350},{"x":174.5,"y":14.5,"v":350},{"x":174.5,"y":17.5,"v":350},{"x":174.5,"y":20.5,"v":350},{"x":174.5,"y":23.5,"v":350},{"x":174.5,"y":26.5,"v":350},{"x":174.5,"y":29.5,"v":350},{"x":174.5,"y":33,"v":345},
{"x":179.5,"y":2.5,"v":350},{"x":179.5,"y":5.5,"v":350},{"x":179.5,"y":8.5,"v":350},{"x":179.5,"y":11.5,"v":350},{"x":179.5,"y":14.5,"v":350},{"x":179.5,"y":17.5,"v":350},{"x":179.5,"y":20.5,"v":350},{"x":179.5,"y":23.5,"v":350},{"x":179.5,"y":26.5,"v":350},{"x":179.5,"y":29.5,"v":350},{"x":179.5,"y":33,"v":350},
{"x":184.5,"y":2.5,"v":350},{"x":184.5,"y":5.5,"v":350},{"x":184.5,"y":8.5,"v":350},{"x":184.5,"y":11.5,"v":350},{"x":184.5,"y":14.5,"v":350},{"x":184.5,"y":17.5,"v":350},{"x":184.5,"y":20.5,"v":350},{"x":184.5,"y":23.5,"v":350},{"x":184.5,"y":26.5,"v":350},{"x":184.5,"y":29.5,"v":350},{"x":184.5,"y":33,"v":350},
{"x":189.5,"y":2.5,"v":350},{"x":189.5,"y":5.5,"v":350},{"x":189.5,"y":8.5,"v":350},{"x":189.5,"y":11.5,"v":350},{"x":189.5,"y":14.5,"v":350},{"x":189.5,"y":17.5,"v":350},{"x":189.5,"y":20.5,"v":350},{"x":189.5,"y":23.5,"v":350},{"x":189.5,"y":26.5,"v":350},{"x":189.5,"y":29.5,"v":350},{"x":189.5,"y":33,"v":350},
{"x":194.5,"y":2.5,"v":350},{"x":194.5,"y":5.5,"v":350},{"x":194.5,"y":8.5,"v":350},{"x":194.5,"y":11.5,"v":350},{"x":194.5,"y":14.5,"v":350},{"x":194.5,"y":17.5,"v":350},{"x":194.5,"y":20.5,"v":350},{"x":194.5,"y":23.5,"v":350},{"x":194.5,"y":26.5,"v":350},{"x":194.5,"y":29.5,"v":350},{"x":194.5,"y":33,"v":350},
{"x":199.5,"y":2.5,"v":350},{"x":199.5,"y":5.5,"v":350},{"x":199.5,"y":8.5,"v":350},{"x":199.5,"y":11.5,"v":350},{"x":199.5,"y":14.5,"v":350},{"x":199.5,"y":17.5,"v":350},{"x":199.5,"y":20.5,"v":350},{"x":199.5,"y":23.5,"v":350},{"x":199.5,"y":26.5,"v":350},{"x":199.5,"y":29.5,"v":350},{"x":199.5,"y":33,"v":350},
{"x":204.5,"y":2.5,"v":350},{"x":204.5,"y":5.5,"v":350},{"x":204.5,"y":8.5,"v":350},{"x":204.5,"y":11.5,"v":350},{"x":204.5,"y":14.5,"v":350},{"x":204.5,"y":17.5,"v":350},{"x":204.5,"y":20.5,"v":350},{"x":204.5,"y":23.5,"v":350},{"x":204.5,"y":26.5,"v":350},{"x":204.5,"y":29.5,"v":350},{"x":204.5,"y":33,"v":350},
{"x":209.5,"y":2.5,"v":350},{"x":209.5,"y":5.5,"v":350},{"x":209.5,"y":8.5,"v":350},{"x":209.5,"y":11.5,"v":350},{"x":209.5,"y":14.5,"v":350},{"x":209.5,"y":17.5,"v":350},{"x":209.5,"y":20.5,"v":350},{"x":209.5,"y":23.5,"v":350},{"x":209.5,"y":26.5,"v":350},{"x":209.5,"y":29.5,"v":350},{"x":209.5,"y":33,"v":350}]
},
"vconcat":[
{"spacing":0,"resolve":{"scale":{"color":"independent"},"legend":{"color":"independent"}},"hconcat":[
{"width":10,"height":511,"data":{"values":[]},"mark":{"type":"point","opacity":0}},
{"width":1877,"height":308,"resolve":{"axis":{"x":"independent","y":"independent"}},"layer":[
{"data":{"name":"a"},"mark":{"type":"rect","width":47,"height":35,"clip":true},"encoding":{"x":{"field":"x","type":"quantitative","scale":{"domain":[3,210],"nice":false,"zero":false},"axis":{"orient":"bottom","values":[20,40,60,80,100,120,140,160,180,200],"title":"X (μm)","tickSize":-14,"labelPadding":56,"zindex":1,"titleFontSize":64,"titlePadding":27}},"y":{"field":"y","type":"quantitative","scale":{"domain":[1,34.7],"nice":false,"zero":false},"axis":{"orient":"left","values":[10,20,30],"title":"Y(μm)","tickSize":-12,"labelPadding":60,"labelOffset":8,"zindex":1,"titleFontSize":60,"titlePadding":20}},"color":{"field":"v","type":"quantitative","scale":{"domain":[0,44,131,219,306,350],"range":["#00008f","#0000ff","#00ffff","#ffff00","#ff0000","#800000"],"clamp":true},"legend":{"type":"gradient","orient":"none","legendX":1928,"legendY":0,"direction":"vertical","title":null,"gradientLength":308,"gradientThickness":100,"values":[0.5,200],"labelExpr":"datum.value < 100 ? '0' : '200'","labelOffset":14}}}},
{"data":{"name":"a"},"mark":{"type":"rect","width":72,"height":54,"opacity":0.5,"clip":true,"xOffset":-6,"yOffset":4},"encoding":{"x":{"field":"x","type":"quantitative","axis":null},"y":{"field":"y","type":"quantitative","axis":null},"color":{"field":"v","type":"quantitative","legend":null}}},
{"data":{"name":"edge"},"mark":{"type":"area","color":"white","clip":true},"encoding":{"x":{"field":"x","type":"quantitative","axis":null},"y":{"field":"y","type":"quantitative","axis":null},"y2":{"datum":34.7}}},
{"data":{"values":[{"x":292,"y":6.7,"t":"(a)"}]},"mark":{"type":"text","font":"Liberation Serif","fontWeight":"bold","fontSize":78,"color":"#111"},"encoding":{"x":{"field":"x","type":"quantitative","axis":{"orient":"top","values":[20,40,60,80,100,120,140,160,180,200],"labels":false,"title":null,"tickSize":-14,"zindex":1}},"y":{"field":"y","type":"quantitative","axis":{"orient":"right","values":[10,20,30],"labels":false,"title":null,"tickSize":-12,"zindex":1}},"text":{"field":"t"}}}]}]},
{"spacing":0,"resolve":{"scale":{"color":"independent"},"legend":{"color":"independent"}},"hconcat":[
{"width":6,"height":511,"data":{"values":[]},"mark":{"type":"point","opacity":0}},
{"width":1894,"height":308,"resolve":{"axis":{"x":"independent","y":"independent"}},"layer":[
{"data":{"name":"b"},"mark":{"type":"rect","width":47.5,"height":35,"clip":true},"encoding":{"x":{"field":"x","type":"quantitative","scale":{"domain":[3,210],"nice":false,"zero":false},"axis":{"orient":"bottom","values":[20,40,60,80,100,120,140,160,180,200],"title":"X (μm)","tickSize":-14,"labelPadding":56,"zindex":1,"titleFontSize":64,"titlePadding":27}},"y":{"field":"y","type":"quantitative","scale":{"domain":[1,34.7],"nice":false,"zero":false},"axis":{"orient":"left","values":[10,20,30],"title":"Y(μm)","tickSize":-12,"labelPadding":60,"labelOffset":8,"zindex":1,"titleFontSize":60,"titlePadding":20}},"color":{"field":"v","type":"quantitative","scale":{"domain":[0,44,131,219,306,350],"range":["#00008f","#0000ff","#00ffff","#ffff00","#ff0000","#800000"],"clamp":true},"legend":{"type":"gradient","orient":"none","legendX":1947,"legendY":0,"direction":"vertical","title":null,"gradientLength":308,"gradientThickness":100,"values":[0.5,200],"labelExpr":"datum.value < 100 ? '0' : '200'","labelOffset":14}}}},
{"data":{"name":"b"},"mark":{"type":"rect","width":72,"height":54,"opacity":0.5,"clip":true,"xOffset":-6,"yOffset":4},"encoding":{"x":{"field":"x","type":"quantitative","axis":null},"y":{"field":"y","type":"quantitative","axis":null},"color":{"field":"v","type":"quantitative","legend":null}}},
{"data":{"name":"edge"},"mark":{"type":"area","color":"white","clip":true},"encoding":{"x":{"field":"x","type":"quantitative","axis":null},"y":{"field":"y","type":"quantitative","axis":null},"y2":{"datum":34.7}}},
{"data":{"values":[{"x":290,"y":7.2,"t":"(b)"}]},"mark":{"type":"text","font":"Liberation Serif","fontWeight":"bold","fontSize":78,"color":"#111"},"encoding":{"x":{"field":"x","type":"quantitative","axis":{"orient":"top","values":[20,40,60,80,100,120,140,160,180,200],"labels":false,"title":null,"tickSize":-14,"zindex":1}},"y":{"field":"y","type":"quantitative","axis":{"orient":"right","values":[10,20,30],"labels":false,"title":null,"tickSize":-12,"zindex":1}},"text":{"field":"t"}}}]}]},
{"spacing":0,"resolve":{"scale":{"color":"independent"},"legend":{"color":"independent"}},"hconcat":[
{"width":1,"height":10,"data":{"values":[]},"mark":{"type":"point","opacity":0}},
{"width":1893,"height":309,"resolve":{"axis":{"x":"independent","y":"independent"}},"layer":[
{"data":{"name":"c"},"mark":{"type":"rect","width":47.5,"height":35,"clip":true},"encoding":{"x":{"field":"x","type":"quantitative","scale":{"domain":[3,210],"nice":false,"zero":false},"axis":{"orient":"bottom","values":[20,40,60,80,100,120,140,160,180,200],"title":"X (μm)","tickSize":-14,"labelPadding":56,"zindex":1,"titleFontSize":64,"titlePadding":27}},"y":{"field":"y","type":"quantitative","scale":{"domain":[1,34.7],"nice":false,"zero":false},"axis":{"orient":"left","values":[10,20,30],"title":"Y(μm)","tickSize":-12,"labelPadding":60,"labelOffset":8,"zindex":1,"titleFontSize":60,"titlePadding":20}},"color":{"field":"v","type":"quantitative","scale":{"domain":[0,44,131,219,306,350],"range":["#00008f","#0000ff","#00ffff","#ffff00","#ff0000","#800000"],"clamp":true},"legend":{"type":"gradient","orient":"none","legendX":1943,"legendY":0,"direction":"vertical","title":null,"gradientLength":309,"gradientThickness":100,"values":[0.5,200],"labelExpr":"datum.value < 100 ? '0' : '200'","labelOffset":14}}}},
{"data":{"name":"c"},"mark":{"type":"rect","width":72,"height":54,"opacity":0.5,"clip":true,"xOffset":-6,"yOffset":4},"encoding":{"x":{"field":"x","type":"quantitative","axis":null},"y":{"field":"y","type":"quantitative","axis":null},"color":{"field":"v","type":"quantitative","legend":null}}},
{"data":{"name":"edge"},"mark":{"type":"area","color":"white","clip":true},"encoding":{"x":{"field":"x","type":"quantitative","axis":null},"y":{"field":"y","type":"quantitative","axis":null},"y2":{"datum":34.7}}},
{"data":{"values":[{"x":291,"y":7.5,"t":"(c)"}]},"mark":{"type":"text","font":"Liberation Serif","fontWeight":"bold","fontSize":78,"color":"#111"},"encoding":{"x":{"field":"x","type":"quantitative","axis":{"orient":"top","values":[20,40,60,80,100,120,140,160,180,200],"labels":false,"title":null,"tickSize":-14,"zindex":1}},"y":{"field":"y","type":"quantitative","axis":{"orient":"right","values":[10,20,30],"labels":false,"title":null,"tickSize":-12,"zindex":1}},"text":{"field":"t"}}}]}]},
{"spacing":0,"resolve":{"scale":{"color":"independent"},"legend":{"color":"independent"}},"hconcat":[
{"width":10,"height":10,"data":{"values":[]},"mark":{"type":"point","opacity":0}},
{"width":1879,"height":305,"resolve":{"axis":{"x":"independent","y":"independent"}},"layer":[
{"data":{"name":"d"},"mark":{"type":"rect","width":47,"height":35,"clip":true},"encoding":{"x":{"field":"x","type":"quantitative","scale":{"domain":[3,210],"nice":false,"zero":false},"axis":{"orient":"bottom","values":[20,40,60,80,100,120,140,160,180,200],"title":"X (μm)","tickSize":-14,"labelPadding":56,"zindex":1,"titleFontSize":64,"titlePadding":27}},"y":{"field":"y","type":"quantitative","scale":{"domain":[1,34.7],"nice":false,"zero":false},"axis":{"orient":"left","values":[10,20,30],"title":"Y(μm)","tickSize":-12,"labelPadding":60,"labelOffset":8,"zindex":1,"titleFontSize":60,"titlePadding":20}},"color":{"field":"v","type":"quantitative","scale":{"domain":[0,44,131,219,306,350],"range":["#00008f","#0000ff","#00ffff","#ffff00","#ff0000","#800000"],"clamp":true},"legend":{"type":"gradient","orient":"none","legendX":1931,"legendY":0,"direction":"vertical","title":null,"gradientLength":308,"gradientThickness":100,"values":[0.5,200],"labelExpr":"datum.value < 100 ? '0' : '200'","labelOffset":14}}}},
{"data":{"name":"d"},"mark":{"type":"rect","width":72,"height":54,"opacity":0.5,"clip":true,"xOffset":-6,"yOffset":4},"encoding":{"x":{"field":"x","type":"quantitative","axis":null},"y":{"field":"y","type":"quantitative","axis":null},"color":{"field":"v","type":"quantitative","legend":null}}},
{"data":{"name":"edge"},"mark":{"type":"area","color":"white","clip":true},"encoding":{"x":{"field":"x","type":"quantitative","axis":null},"y":{"field":"y","type":"quantitative","axis":null},"y2":{"datum":34.7}}},
{"data":{"values":[{"x":291.6,"y":6.1,"t":"(d)"}]},"mark":{"type":"text","font":"Liberation Serif","fontWeight":"bold","fontSize":78,"color":"#111"},"encoding":{"x":{"field":"x","type":"quantitative","axis":{"orient":"top","values":[20,40,60,80,100,120,140,160,180,200],"labels":false,"title":null,"tickSize":-14,"zindex":1}},"y":{"field":"y","type":"quantitative","axis":{"orient":"right","values":[10,20,30],"labels":false,"title":null,"tickSize":-12,"zindex":1}},"text":{"field":"t"}}}]}]}
]}
